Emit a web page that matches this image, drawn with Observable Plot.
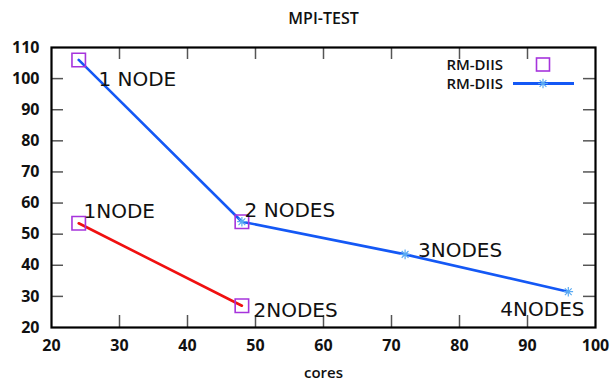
<!DOCTYPE html>
<html>
<head>
<meta charset="utf-8">
<script src="https://cdn.jsdelivr.net/npm/d3@7"></script>
<script src="https://cdn.jsdelivr.net/npm/@observablehq/plot@0.6"></script>
<style>
  html, body { margin: 0; padding: 0; background: #fff; }
  #chart { position: relative; width: 614px; height: 383px; }
</style>
</head>
<body>
<div id="chart"></div>
<script>
// ---- data ----
const title = "MPI-TEST";
const xLabel = "cores";
const legendLabels = ["RM-DIIS", "RM-DIIS"];

const xTicks = [20, 30, 40, 50, 60, 70, 80, 90, 100];
const yTicks = [20, 30, 40, 50, 60, 70, 80, 90, 100, 110];

// blue line with star points
const blueCores = [24, 48, 72, 96];
const blueTime  = [106, 54, 43.5, 31.5];
// red line
const redCores = [24, 48];
const redTime  = [53.5, 27];
// square markers (first RM-DIIS series)
const squareCores = [24, 48, 24, 48];
const squareTime  = [106, 54, 53.5, 27];
// annotation labels
const noteText  = ["1 NODE", "1NODE", "2 NODES", "2NODES", "3NODES", "4NODES"];
const noteCores = [26.9, 24.7, 48.4, 49.7, 73.9, 86.0];
const noteTime  = [99.6, 57.4, 57.6, 25.3, 44.6, 25.6];

// ---- build ----
const blue = blueCores.map((x, i) => ({x, y: blueTime[i]}));
const red = redCores.map((x, i) => ({x, y: redTime[i]}));
const squares = squareCores.map((x, i) => ({x, y: squareTime[i]}));
const notes = noteText.map((t, i) => ({t, x: noteCores[i], y: noteTime[i]}));

const starSymbol = {
  draw(context, size) {
    const l = Math.sqrt(size / Math.PI);
    const d = l * Math.SQRT1_2;
    context.moveTo(-l, 0); context.lineTo(l, 0);
    context.moveTo(0, -l); context.lineTo(0, l);
    context.moveTo(-d, -d); context.lineTo(d, d);
    context.moveTo(-d, d); context.lineTo(d, -d);
  }
};

const W = 614, H = 383;
const mL = 51, mR = 19, mT = 47, mB = 56;
const innerW = W - mL - mR, innerH = H - mT - mB;
const tickLen = 12;
const tickColor = "#555";
const blueColor = "#1458f5";
const redColor = "#f01010";
const squareColor = "#a634dc";
const starColor = "#5aaaf2";
const labelFont = "DejaVu Sans";

const plot = Plot.plot({
  width: W, height: H,
  marginLeft: mL, marginRight: mR, marginTop: mT, marginBottom: mB,
  style: {fontFamily: "'Open Sans', sans-serif", background: "#fff", overflow: "visible"},
  x: {domain: [20, 100]},
  y: {domain: [20, 110]},
  marks: [
    // inward ticks
    Plot.tickY(yTicks.slice(1, -1), {y: d => d, insetRight: innerW - tickLen, stroke: tickColor, strokeWidth: 1.5}),
    Plot.tickY(yTicks.slice(1, -1), {y: d => d, insetLeft: innerW - tickLen, stroke: tickColor, strokeWidth: 1.5}),
    Plot.tickX(xTicks.slice(1, -1), {x: d => d, insetTop: innerH - tickLen, stroke: tickColor, strokeWidth: 1.5}),
    Plot.tickX(xTicks.slice(1, -1), {x: d => d, insetBottom: innerH - tickLen, stroke: tickColor, strokeWidth: 1.5}),
    Plot.axisX({ticks: xTicks, tickSize: 0, tickPadding: 12, label: null,
      fontSize: 16, fontWeight: "bold", fill: "#111"}),
    Plot.axisY({ticks: yTicks, tickSize: 0, tickPadding: 12, label: null,
      fontSize: 16, fontWeight: "bold", fill: "#111"}),
    // lines
    Plot.line(blue, {x: "x", y: "y", stroke: blueColor, strokeWidth: 2.6}),
    Plot.line(red, {x: "x", y: "y", stroke: redColor, strokeWidth: 2.6}),
    Plot.dot(blue.filter((d, i) => i > 0), {x: "x", y: "y", symbol: starSymbol, r: 4.8, stroke: starColor, strokeWidth: 1.2}),
    Plot.dot(squares, {x: "x", y: "y", symbol: "square", r: 7.6, stroke: squareColor, strokeWidth: 1.6, fill: "none"}),
    // annotations
    Plot.text(notes, {x: "x", y: "y", text: "t", textAnchor: "start", lineAnchor: "middle",
      fontSize: 20, fontFamily: labelFont, fill: "#111"}),
    // title & axis label
    Plot.text([title], {text: d => d, frameAnchor: "top", dy: -29, fontSize: 16, fontWeight: 600, fill: "#111", lineAnchor: "middle"}),
    Plot.text([xLabel], {text: d => d, frameAnchor: "bottom", dy: 46, fontSize: 15, fontWeight: 600, fill: "#111", lineAnchor: "middle"}),
    Plot.frame({stroke: "#000", strokeWidth: 2.2})
  ]
});

// legend inside the frame (top-right)
const svg = d3.select(plot);
const lg = svg.append("g").attr("font-family", "'Open Sans', sans-serif").attr("font-size", 15).attr("font-weight", 600).attr("fill", "#111");
const lx = 503, ly = [64.5, 83.5], symX = 543;
legendLabels.forEach((t, i) => {
  lg.append("text").attr("x", lx).attr("y", ly[i]).attr("dy", "0.35em").attr("text-anchor", "end").text(t);
});
lg.append("rect").attr("x", symX - 6.5).attr("y", ly[0] - 6.5).attr("width", 13).attr("height", 13)
  .attr("fill", "none").attr("stroke", squareColor).attr("stroke-width", 1.6);
lg.append("line").attr("x1", 513).attr("x2", 574).attr("y1", ly[1]).attr("y2", ly[1])
  .attr("stroke", blueColor).attr("stroke-width", 3);
lg.append("path").attr("transform", `translate(${symX},${ly[1]})`)
  .attr("d", d3.symbol(starSymbol, Math.PI * 4.8 * 4.8)())
  .attr("stroke", starColor).attr("stroke-width", 1.2).attr("fill", "none");

document.getElementById("chart").appendChild(plot);
</script>
</body>
</html>
